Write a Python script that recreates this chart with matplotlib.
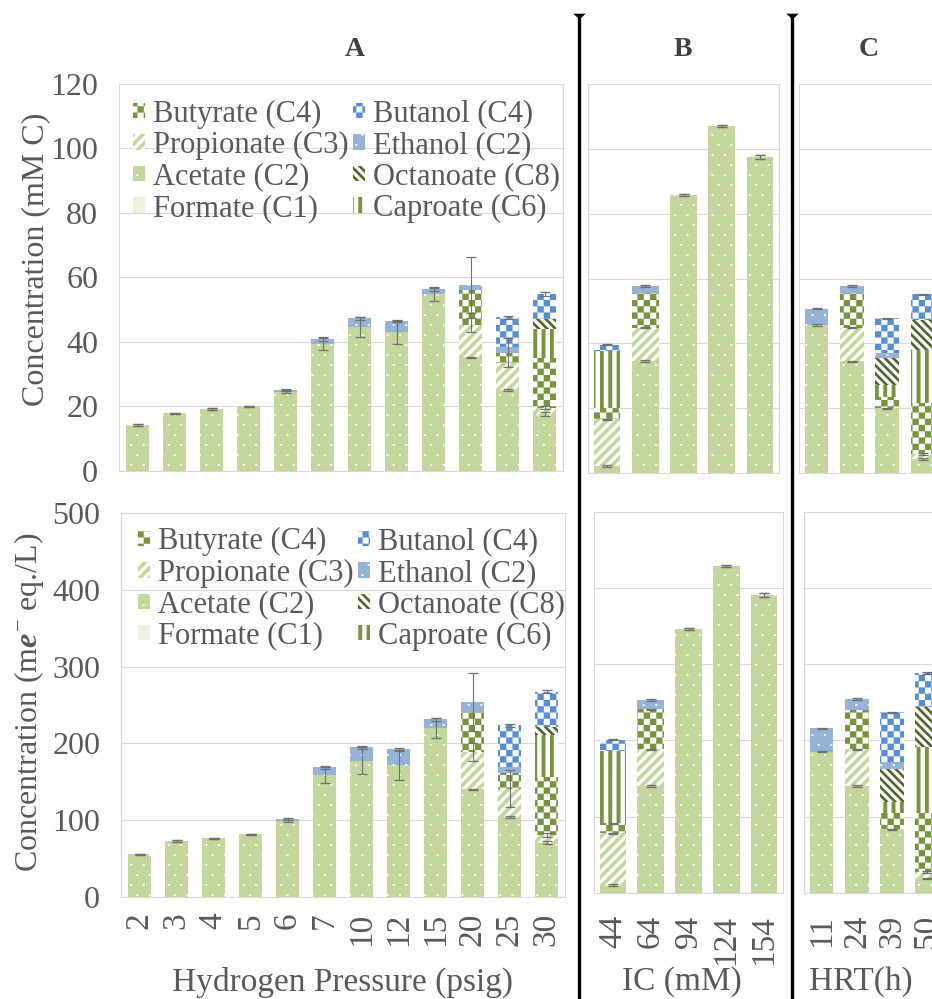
import numpy as np
import matplotlib
matplotlib.use('Agg')
import matplotlib.pyplot as plt
import matplotlib.hatch as mhatch
from matplotlib.path import Path
from matplotlib.lines import Line2D

# ---------------- data ----------------
components = ['Formate (C1)', 'Acetate (C2)', 'Propionate (C3)', 'Butyrate (C4)',
              'Caproate (C6)', 'Octanoate (C8)', 'Ethanol (C2)', 'Butanol (C4)']
legend_order = ['Butyrate (C4)', 'Propionate (C3)', 'Acetate (C2)', 'Formate (C1)',
                'Butanol (C4)', 'Ethanol (C2)', 'Octanoate (C8)', 'Caproate (C6)']

a_cats = ['2', '3', '4', '5', '6', '7', '10', '12', '15', '20', '25', '30']
b_cats = ['44', '64', '94', '124', '154']
c_cats = ['11', '24', '39', '50']

# Panel A, mM C
a_c_formate    = [0, 0, 0, 0, 0, 0, 0, 0, 0, 0, 0, 0]
a_c_acetate    = [14.3, 17.9, 19.2, 20.1, 24.6, 39.4, 44.5, 43.0, 54.8, 35.3, 25.1, 17.7]
a_c_propionate = [0, 0, 0, 0, 0, 0, 0, 0, 0, 10.0, 8.5, 1.9]
a_c_butyrate   = [0, 0, 0, 0, 0, 0, 0, 0, 0, 10.8, 3.1, 15.3]
a_c_caproate   = [0, 0, 0, 0, 0, 0, 0, 0, 0, 0, 0, 9.0]
a_c_octanoate  = [0, 0, 0, 0, 0, 0, 0, 0, 0, 0, 0, 3.1]
a_c_ethanol    = [0, 0, 0, 0, 0.6, 1.5, 2.8, 3.4, 1.7, 1.6, 1.6, 0]
a_c_butanol    = [0, 0, 0, 0, 0, 0, 0, 0, 0, 0, 9.3, 7.8]
a_c_err_acetate    = [0.2, 0.2, 0.2, 0.2, 0.5, 1.8, 3.1, 3.5, 2.0, 0.2, 0.2, 0.6]
a_c_err_propionate = [0, 0, 0, 0, 0, 0, 0, 0, 0, 2.1, 0, 0.4]
a_c_err_butyrate   = [0, 0, 0, 0, 0, 0, 0, 0, 0, 0, 4.5, 0]
a_c_err_total      = [0.2, 0.2, 0.2, 0.2, 0.3, 0.5, 0.6, 0.3, 0.7, 8.8, 0.4, 0.6]

# Panel A, me- eq./L
a_e_formate    = [0, 0, 0, 0, 0, 0, 0, 0, 0, 0, 0, 0]
a_e_acetate    = [55.5, 72.9, 76.4, 81.6, 99.0, 158.9, 177.5, 171.9, 219.6, 140.2, 104.0, 70.7]
a_e_propionate = [0, 0, 0, 0, 0, 0, 0, 0, 0, 48.9, 37.0, 10.0]
a_e_butyrate   = [0, 0, 0, 0, 0, 0, 0, 0, 0, 52.2, 20.5, 75.8]
a_e_caproate   = [0, 0, 0, 0, 0, 0, 0, 0, 0, 0, 0, 54.5]
a_e_octanoate  = [0, 0, 0, 0, 0, 0, 0, 0, 0, 0, 0, 10.0]
a_e_ethanol    = [0, 0, 0, 0, 2.6, 9.9, 17.4, 20.4, 11.7, 12.2, 7.8, 0]
a_e_butanol    = [0, 0, 0, 0, 0, 0, 0, 0, 0, 0, 54.2, 46.0]
a_e_err_acetate    = [0.8, 0.8, 0.8, 0.8, 1.5, 11, 17.5, 20, 13, 1, 1, 2]
a_e_err_propionate = [0, 0, 0, 0, 0, 0, 0, 0, 0, 12, 24, 2]
a_e_err_butyrate   = [0, 0, 0, 0, 0, 0, 0, 0, 0, 0, 0, 0]
a_e_err_total      = [0.8, 0.8, 0.8, 0.8, 1, 1.5, 2, 2, 2, 38, 2, 2]

# Panel B, mM C
b_c_formate    = [0, 0, 0, 0, 0]
b_c_acetate    = [2.2, 34.6, 85.9, 107.1, 97.5]
b_c_propionate = [14.4, 10.2, 0, 0, 0]
b_c_butyrate   = [3.3, 10.8, 0, 0, 0]
b_c_caproate   = [17.6, 0, 0, 0, 0]
b_c_octanoate  = [0, 0, 0, 0, 0]
b_c_ethanol    = [0, 2.1, 0, 0, 0]
b_c_butanol    = [2.1, 0, 0, 0, 0]
b_c_err_acetate    = [0.2, 0.3, 0.3, 0.3, 0.5]
b_c_err_propionate = [0.2, 0.2, 0, 0, 0]
b_c_err_butyrate   = [0, 0, 0, 0, 0]
b_c_err_total      = [0.2, 0.3, 0.3, 0.3, 0.5]

# Panel B, me- eq./L
b_e_formate    = [0, 0, 0, 0, 0]
b_e_acetate    = [10, 140, 346, 429, 390.7]
b_e_propionate = [68, 48, 0, 0, 0]
b_e_butyrate   = [13, 52.6, 0, 0, 0]
b_e_caproate   = [95, 0, 0, 0, 0]
b_e_octanoate  = [0, 0, 0, 0, 0]
b_e_ethanol    = [0, 12.3, 0, 0, 0]
b_e_butanol    = [15, 0, 0, 0, 0]
b_e_err_acetate    = [0.8, 1, 1, 1, 2]
b_e_err_propionate = [0.8, 0.8, 0, 0, 0]
b_e_err_butyrate   = [0.8, 0.8, 0, 0, 0]
b_e_err_total      = [0.8, 1, 1, 1, 2]

# Panel C, mM C
c_c_formate    = [0, 0, 0, 0]
c_c_acetate    = [45.8, 34.4, 19.9, 4.4]
c_c_propionate = [0, 10.4, 0, 1.6]
c_c_butyrate   = [0, 10.6, 3.6, 15.5]
c_c_caproate   = [0, 0, 3.7, 16.5]
c_c_octanoate  = [0, 0, 8.2, 9.3]
c_c_ethanol    = [4.9, 2.2, 1.6, 0]
c_c_butanol    = [0, 0, 10.7, 7.8]
c_c_err_acetate    = [0.3, 0.3, 0.3, 0.3]
c_c_err_propionate = [0, 0.2, 0, 0.3]
c_c_err_butyrate   = [0, 0, 0, 0]
c_c_err_total      = [0.2, 0.3, 0.2, 0.2]

# Panel C, me- eq./L
c_e_formate    = [0, 0, 0, 0]
c_e_acetate    = [185, 140, 83.2, 18.8]
c_e_propionate = [0, 48, 0, 8.8]
c_e_butyrate   = [0, 51.8, 20.8, 76.4]
c_e_caproate   = [0, 0, 15, 87.6]
c_e_octanoate  = [0, 0, 43, 51.7]
c_e_ethanol    = [30.7, 14.4, 10, 0]
c_e_butanol    = [0, 0, 64.7, 44.7]
c_e_err_acetate    = [1, 1, 1, 1]
c_e_err_propionate = [0, 1, 0, 1.5]
c_e_err_butyrate   = [0, 0, 0, 0]
c_e_err_total      = [0.8, 1, 1, 1]

# ---------------- custom tile hatches ----------------
def _poly_path(polys):
    verts, codes = [], []
    for p in polys:
        verts.extend(p)
        verts.append(p[0])
        codes.extend([Path.MOVETO] + [Path.LINETO] * (len(p) - 1) + [Path.CLOSEPOLY])
    return np.asarray(verts, float), np.asarray(codes, dtype=Path.code_type)


def _sq(x0, y0, x1, y1):
    return [(x0, y0), (x1, y0), (x1, y1), (x0, y1)]


def pat_dots(ncol=8, nrow=10, s=0.018):
    polys = []
    for j in range(nrow):
        off = 0.5 / ncol if j % 2 else 0.0
        cy = (j + 0.5) / nrow
        for i in range(-1, ncol + 1):
            cx = i / ncol + off
            polys.append(_sq(cx - s / 2, cy - s / 2, cx + s / 2, cy + s / 2))
    return _poly_path(polys)


def pat_checker(n=16):
    polys = []
    for i in range(n):
        for j in range(n):
            if (i + j) % 2 == 0:
                polys.append(_sq(i / n, j / n, (i + 1) / n, (j + 1) / n))
    return _poly_path(polys)


def pat_vstripes(n=12, frac=0.45):
    return _poly_path([_sq(i / n, -0.01, (i + frac) / n, 1.01) for i in range(n)])


def pat_diag(n=10, frac=0.5, mirror=False):
    p = 1.0 / n
    w = frac * p
    polys = []
    for k in range(-n - 2, n + 3):
        c = k * p
        poly = [(-0.1, -0.1 + c), (1.1, 1.1 + c), (1.1, 1.1 + c + w), (-0.1, -0.1 + c + w)]
        if mirror:
            poly = [(1 - x, y) for x, y in poly]
        polys.append(poly)
    return _poly_path(polys)


HATCH_PATTERNS = {
    '.': pat_dots(),
    'O': pat_checker(),
    '|': pat_vstripes(),
    '/': pat_diag(10, 0.5),
    '\\': pat_diag(12, 0.42, mirror=True),
}


class TileHatch(mhatch.HatchPatternBase):
    def __init__(self, hatch, density):
        v, c = HATCH_PATTERNS.get(hatch, (np.empty((0, 2)), np.empty(0, dtype=Path.code_type)))
        self._v, self._c = v, c
        self.num_vertices = len(v)

    def set_vertices_and_codes(self, vertices, codes):
        vertices[:] = self._v
        codes[:] = self._c


mhatch._hatch_types = [TileHatch]

# ---------------- styles ----------------
plt.rcParams['font.family'] = ['Liberation Serif', 'DejaVu Serif']
plt.rcParams['hatch.linewidth'] = 0.1
plt.rcParams['mathtext.fontset'] = 'custom'
plt.rcParams['mathtext.rm'] = 'Liberation Serif'
plt.rcParams['mathtext.it'] = 'Liberation Serif:italic:bold'
plt.rcParams['mathtext.bf'] = 'Liberation Serif:bold'

TXT = '#595959'
GRID = '#d9d9d9'
STYLE = {
    'Formate (C1)':    ('#ebf1de', '#ebf1de', None),
    'Acetate (C2)':    ('#c3d69b', 'white', '.'),
    'Propionate (C3)': ('white', '#c3d69b', '/'),
    'Butyrate (C4)':   ('white', '#77933c', 'O'),
    'Caproate (C6)':   ('white', '#77933c', '|'),
    'Octanoate (C8)':  ('white', '#4f6228', '\\'),
    'Ethanol (C2)':    ('#95b3d7', 'white', '.'),
    'Butanol (C4)':    ('white', '#558ed5', 'O'),
}

W, H = 932, 999
fig = plt.figure(figsize=(W / 100, H / 100), dpi=100)


def rect(l, t, r, b):
    return [l / W, 1 - b / H, (r - l) / W, (b - t) / H]


def draw_panel(ax, cats, layers, errs, width, ymax, ystep, nslots, show_x, show_y, xpad):
    x = np.arange(len(cats))
    bottom = np.zeros(len(cats))
    cum = {}
    handles = {}
    for name, vals in zip(components, layers):
        vals = np.asarray(vals, float)
        fc, ec, hatch = STYLE[name]
        bc = ax.bar(x, vals, width, bottom=bottom, color=fc, edgecolor=ec,
                    linewidth=0, hatch=hatch, label=name, zorder=2)
        bottom = bottom + vals
        cum[name] = bottom.copy()
        handles[name] = bc
    cum['total'] = bottom
    for key, e in errs:
        e = np.asarray(e, float)
        m = e > 0
        if m.any():
            ax.errorbar(x[m], cum[key][m], yerr=e[m], fmt='none', ecolor='#6f6f6f',
                        elinewidth=0.8, capsize=3.5, capthick=0.9, zorder=3)
    ax.set_xlim(-0.5, nslots - 0.5)
    ax.set_ylim(0, ymax)
    ax.set_yticks(np.arange(0, ymax + 1, ystep))
    ax.set_xticks(x)
    ax.set_xticklabels(cats, rotation=90)
    ax.grid(axis='y', color=GRID, lw=0.8, zorder=0)
    ax.set_axisbelow(True)
    for s in ax.spines.values():
        s.set_color(GRID)
        s.set_linewidth(0.8)
    ax.tick_params(axis='y', length=0, labelsize=23, labelcolor=TXT, pad=15, labelleft=show_y)
    ax.tick_params(axis='x', length=0, labelsize=24, labelcolor=TXT, pad=xpad, labelbottom=show_x)
    return handles


def layers_of(prefix):
    g = globals()
    return [g[prefix + s] for s in ['formate', 'acetate', 'propionate', 'butyrate',
                                    'caproate', 'octanoate', 'ethanol', 'butanol']]


def errs_of(prefix):
    g = globals()
    return [('Acetate (C2)', g[prefix + 'err_acetate']),
            ('Propionate (C3)', g[prefix + 'err_propionate']),
            ('Butyrate (C4)', g[prefix + 'err_butyrate']),
            ('total', g[prefix + 'err_total'])]


axA1 = fig.add_axes(rect(119, 84, 563, 471))
axA2 = fig.add_axes(rect(121, 513, 565, 897))
axB1 = fig.add_axes(rect(588, 84, 779, 473))
axB2 = fig.add_axes(rect(594, 511.7, 783, 892.7))
axC1 = fig.add_axes(rect(799, 84, 975.5, 473))
axC2 = fig.add_axes(rect(804, 511.7, 980, 892.7))

hA1 = draw_panel(axA1, a_cats, layers_of('a_c_'), errs_of('a_c_'), 0.63, 120, 20, len(a_cats), False, True, 11)
hA2 = draw_panel(axA2, a_cats, layers_of('a_e_'), errs_of('a_e_'), 0.63, 500, 100, len(a_cats), True, True, 11)
draw_panel(axB1, b_cats, layers_of('b_c_'), errs_of('b_c_'), 0.70, 120, 20, len(b_cats), False, False, 16)
draw_panel(axB2, b_cats, layers_of('b_e_'), errs_of('b_e_'), 0.70, 500, 100, len(b_cats), True, False, 16)
draw_panel(axC1, c_cats, layers_of('c_c_'), errs_of('c_c_'), 0.67, 120, 20, 5, False, False, 16)
draw_panel(axC2, c_cats, layers_of('c_e_'), errs_of('c_e_'), 0.67, 500, 100, 5, True, False, 16)

legkw = dict(ncol=2, loc='upper left', frameon=False, fontsize=22, handlelength=0.4,
             handleheight=0.4, handletextpad=0.25, columnspacing=0.15, labelspacing=0.08,
             borderpad=0, borderaxespad=0, labelcolor=TXT)
axA1.legend([hA1[k] for k in legend_order], legend_order, bbox_to_anchor=(0.0315, 0.96), **legkw)
axA2.legend([hA2[k] for k in legend_order], legend_order, bbox_to_anchor=(0.038, 0.963), **legkw)

# ---------------- labels ----------------
def ftext(px, py, s, **kw):
    fig.text(px / W, 1 - py / H, s, **kw)

ftext(36, 259, 'Concentration (mM C)', rotation=90, ha='center', va='center', fontsize=23, color=TXT)
ftext(29, 702, 'Concentration (m$\\mathit{e}^{-}$ eq./L)', rotation=90, ha='center', va='center',
      fontsize=23, color=TXT)
ftext(343, 982, 'Hydrogen Pressure (psig)', ha='center', va='center', fontsize=24, color=TXT)
ftext(682, 982, 'IC (mM)', ha='center', va='center', fontsize=24, color=TXT)
ftext(861, 982, 'HRT(h)', ha='center', va='center', fontsize=24, color=TXT)
for lab, px in [('A', 355), ('B', 683), ('C', 869)]:
    ftext(px, 50, lab, ha='center', va='center', fontsize=20, fontweight='bold', color='#404040')

# ---------------- separators ----------------
tri = [(-1, 0.45), (1, 0.45), (0, -0.45)]
for px in [579, 792]:
    fig.add_artist(Line2D([px / W, px / W], [0, 1 - 16 / H], transform=fig.transFigure,
                          color='black', lw=2.4, marker=tri, markevery=[1],
                          markersize=9, markeredgewidth=0, markerfacecolor='black'))

fig.savefig('out.png', dpi=100)
